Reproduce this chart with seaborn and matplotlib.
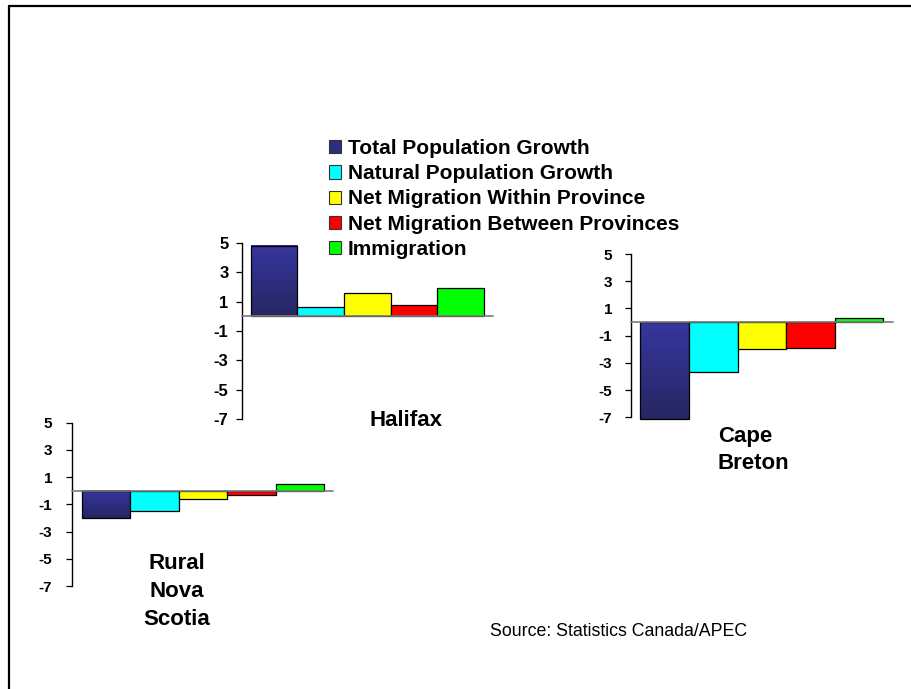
import numpy as np
import pandas as pd
import matplotlib
matplotlib.use("Agg")
import matplotlib.pyplot as plt
from matplotlib.patches import Patch
from matplotlib.lines import Line2D
from matplotlib.colors import LinearSegmentedColormap
import seaborn as sns

# Population growth components (%) by region
series = ["Total Population Growth", "Natural Population Growth",
          "Net Migration Within Province", "Net Migration Between Provinces",
          "Immigration"]
halifax = [4.8, 0.6, 1.6, 0.8, 1.9]
cape_breton = [-7.1, -3.7, -2.0, -1.9, 0.3]
rural_ns = [-2.0, -1.5, -0.6, -0.3, 0.5]
y_ticks = [5, 3, 1, -1, -3, -5, -7]
colors = ["#2e2e80", "#00FFFF", "#FFFF00", "#FF0000", "#00FF00"]

sns.set_theme(style="white")
plt.rcParams["font.family"] = ["Liberation Sans", "DejaVu Sans"]
plt.rcParams.update({"text.color": "black", "axes.labelcolor": "black",
                     "xtick.color": "black", "ytick.color": "black"})

W, H = 912, 689
fig = plt.figure(figsize=(W / 100, H / 100), dpi=100)
fig.patch.set_facecolor("white")


def px_axes(x0, x1, ytop, ybot):
    return fig.add_axes([x0 / W, (H - ybot) / H, (x1 - x0) / W, (ybot - ytop) / H])


navy_grad = LinearSegmentedColormap.from_list("navy", ["#262662", "#36369f"])


def draw_region(ax, values, tick_size=11, tick_pad=9):
    df = pd.DataFrame({"component": series, "value": values})
    sns.barplot(data=df, x="component", y="value", hue="component",
                order=series, hue_order=series, palette=colors, width=1.0,
                edgecolor="black", linewidth=0.9, legend=False, ax=ax,
                saturation=1)
    for p in ax.patches:
        p.set_clip_on(False)
    # shaded fill for the total-growth bar
    p0 = ax.patches[0]
    x, w = p0.get_x(), p0.get_width()
    y0, h = p0.get_y(), p0.get_height()
    lo, hi = min(y0, y0 + h), max(y0, y0 + h)
    grad = np.linspace(0, 1, 256).reshape(-1, 1)
    im = ax.imshow(grad, cmap=navy_grad, origin="lower", aspect="auto",
                   extent=(x, x + w, lo, hi), zorder=0.5, clip_on=False)
    im.set_clip_path(p0)
    p0.set_facecolor("none")
    g = 0.19
    ax.set_xlim(-0.5 - g, 4.5 + g)
    ax.set_ylim(-7, 5)
    ax.axhline(0, color="#7a7a7a", lw=1.2, zorder=3, clip_on=False)
    for s in ["top", "right", "bottom"]:
        ax.spines[s].set_visible(False)
    ax.spines["left"].set_color("black")
    ax.spines["left"].set_linewidth(1.0)
    ax.set_yticks(y_ticks)
    ax.set_yticklabels([str(t) for t in y_ticks], fontsize=tick_size,
                       fontweight="bold", color="black")
    ax.tick_params(axis="y", left=True, length=4.5, width=0.9, color="black",
                   direction="out", pad=tick_pad)
    ax.set_xticks([])
    ax.set_xlabel("")
    ax.set_ylabel("")
    ax.patch.set_alpha(0)


ax_h = px_axes(241.7, 493, 242.7, 419.3)
draw_region(ax_h, halifax, tick_size=12, tick_pad=5)
ax_c = px_axes(631, 892.7, 254, 417.3)
draw_region(ax_c, cape_breton)
ax_r = px_axes(72.3, 333.3, 422.7, 586)
draw_region(ax_r, rural_ns, tick_pad=10)

# Region names
title_kw = dict(fontsize=16, fontweight="bold", color="black")
fig.text(406 / W, 1 - 420.5 / H, "Halifax", ha="center", va="center", **title_kw)
fig.text(718 / W, 1 - 450 / H, "Cape\nBreton", ha="left", va="center",
         linespacing=1.4, **title_kw)
fig.text(177 / W, 1 - 591.5 / H, "Rural\nNova\nScotia", ha="center", va="center",
         linespacing=1.44, **title_kw)

# Legend
handles = [Patch(facecolor=c, edgecolor="#333333", linewidth=0.8) for c in colors]
fig.legend(handles, series, loc="upper left",
           bbox_to_anchor=(329 / W, 1 - 139 / H), frameon=False,
           prop=dict(size=15, weight="bold"), handlelength=0.6,
           handleheight=0.6, handletextpad=0.3, labelspacing=0.3,
           borderaxespad=0, borderpad=0, labelcolor="black")

fig.text(490 / W, 1 - 632 / H, "Source: Statistics Canada/APEC",
         ha="left", va="center", fontsize=12.8, color="black")

# Page frame: left and top edges
fig.add_artist(Line2D([8.7 / W, 8.7 / W], [0, 1 - 5.7 / H],
                      transform=fig.transFigure, color="black", lw=1.6))
fig.add_artist(Line2D([8.7 / W, 1], [1 - 5.7 / H, 1 - 5.7 / H],
                      transform=fig.transFigure, color="black", lw=1.6))

fig.savefig("out.png", dpi=100, facecolor="white")
